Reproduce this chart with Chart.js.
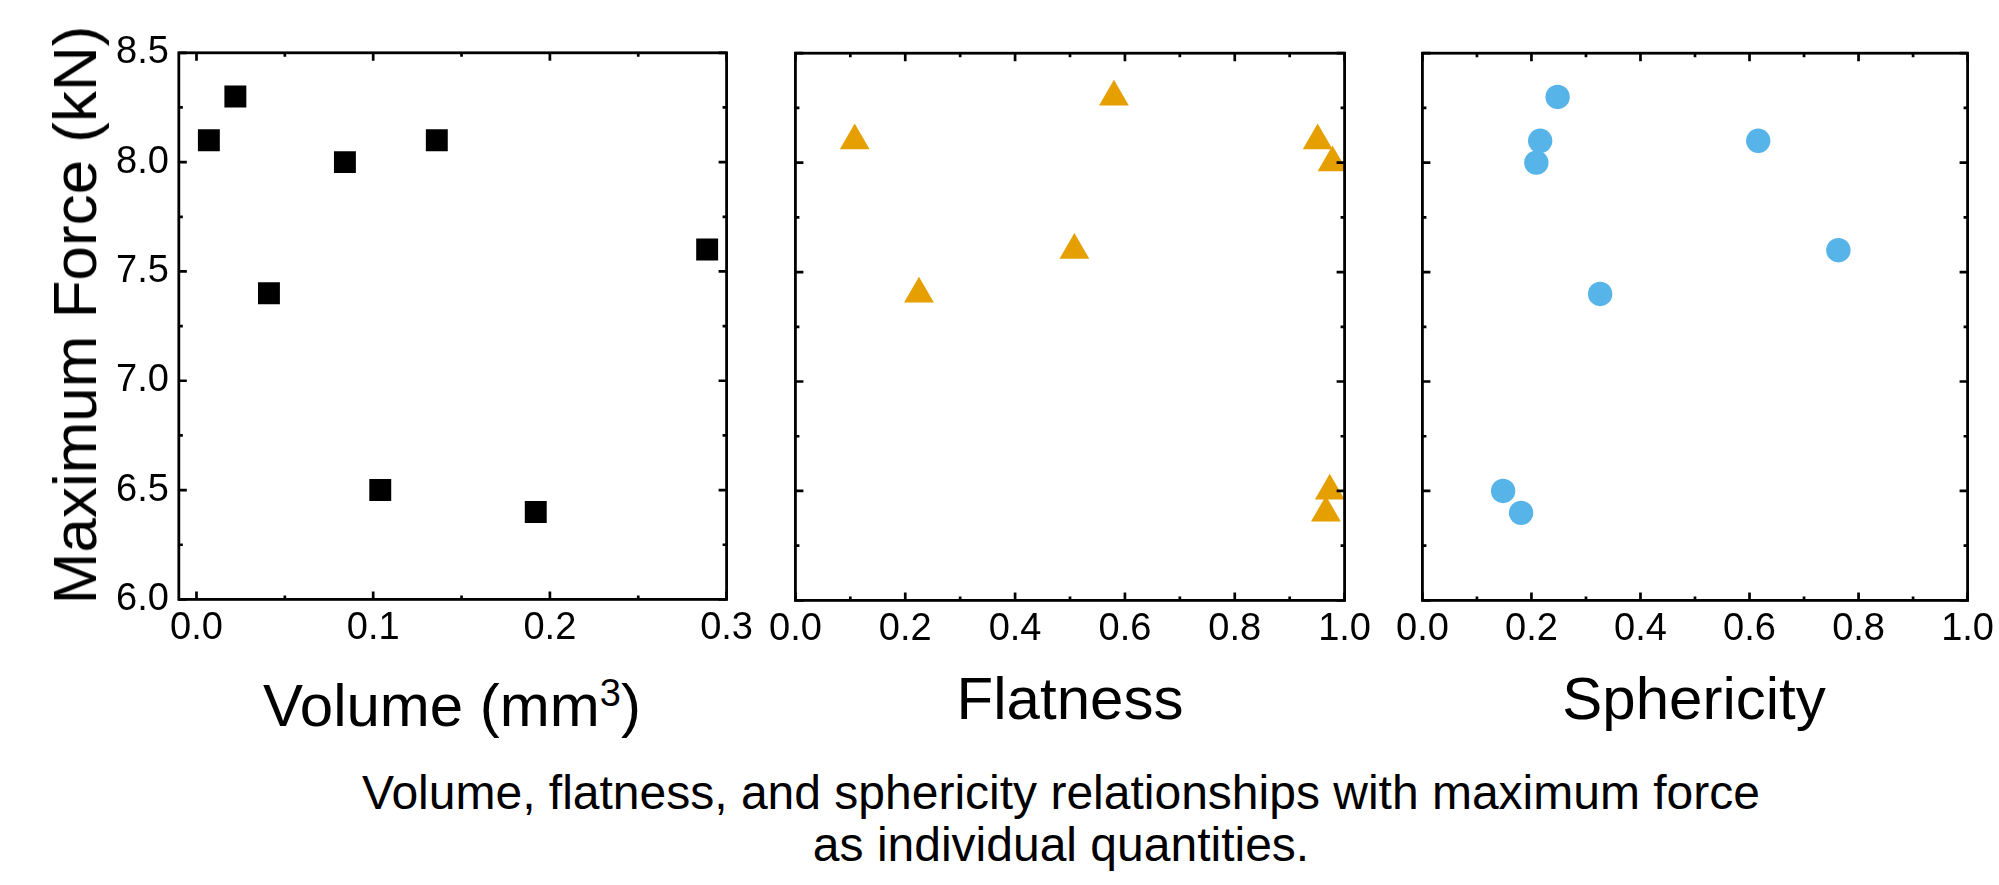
<!DOCTYPE html>
<html>
<head>
<meta charset="utf-8">
<script src="https://cdn.jsdelivr.net/npm/chart.js@4.4.1/dist/chart.umd.min.js"></script>
<style>
  html, body { margin: 0; padding: 0; background: #fff; }
  #wrap { position: relative; width: 1999px; height: 885px; overflow: hidden; background: #fff;
          font-family: "Liberation Sans", Arial, sans-serif; color: #000; }
  canvas { position: absolute; }
  .t { position: absolute; white-space: nowrap; }
</style>
</head>
<body>
<div id="wrap">
  <canvas id="c1"></canvas>
  <canvas id="c2"></canvas>
  <canvas id="c3"></canvas>
  <div class="t" id="ytitle" style="font-size:62px;line-height:62px;left:75px;top:315px;transform:translate(-50%,-50%) rotate(-90deg);">Maximum Force (kN)</div>
  <div class="t" style="font-size:60px;line-height:60px;left:452px;top:676px;transform:translateX(-50%);">Volume (mm<span style="font-size:38px;line-height:0;vertical-align:20px;">3</span>)</div>
  <div class="t" style="font-size:60px;line-height:60px;left:1070px;top:669px;transform:translateX(-50%);">Flatness</div>
  <div class="t" style="font-size:60px;line-height:60px;left:1694px;top:669px;transform:translateX(-50%);">Sphericity</div>
  <div class="t" style="font-size:48px;line-height:52px;left:1061px;top:767px;transform:translateX(-50%);text-align:center;">Volume, flatness, and sphericity relationships with maximum force<br>as individual quantities.</div>
</div>
<script>
// ---------- data ----------
const volumeX        = [0.007, 0.022, 0.041, 0.084, 0.136, 0.104, 0.192, 0.289];
const volumeForce    = [8.1, 8.3, 7.4, 8.0, 8.1, 6.5, 6.4, 7.6];
const flatnessX      = [0.108, 0.225, 0.580, 0.508, 0.951, 0.978, 0.973, 0.966];
const flatnessForce  = [8.1, 7.4, 8.3, 7.6, 8.1, 8.0, 6.5, 6.4];
const sphericityX    = [0.248, 0.216, 0.209, 0.616, 0.763, 0.326, 0.148, 0.181];
const sphericityForce= [8.3, 8.1, 8.0, 8.1, 7.6, 7.4, 6.5, 6.4];

const forceTicks   = [6.0, 6.5, 7.0, 7.5, 8.0, 8.5];
const forceMinor   = [6.25, 6.75, 7.25, 7.75, 8.25];
const volumeTicks  = [0.0, 0.1, 0.2, 0.3];
const volumeMinor  = [0.05, 0.15, 0.25];
const ratioTicks   = [0.0, 0.2, 0.4, 0.6, 0.8, 1.0];
const ratioMinor   = [0.1, 0.3, 0.5, 0.7, 0.9];

const FONT = "'Liberation Sans', Arial, sans-serif";

function frameTicksPlugin(xMinor, yMinor) {
  return {
    id: 'frameTicks',
    afterDraw(chart) {
      const { ctx, chartArea: a, scales: { x, y } } = chart;
      const MAJ = 8, MIN = 4;
      ctx.save();
      ctx.strokeStyle = '#000';
      ctx.lineWidth = 2.7;
      ctx.lineCap = 'butt';
      ctx.beginPath();
      const xt = (v, len) => {
        const p = x.getPixelForValue(v);
        ctx.moveTo(p, a.bottom); ctx.lineTo(p, a.bottom - len);
        ctx.moveTo(p, a.top);    ctx.lineTo(p, a.top + len);
      };
      const yt = (v, len) => {
        const p = y.getPixelForValue(v);
        ctx.moveTo(a.left, p);  ctx.lineTo(a.left + len, p);
        ctx.moveTo(a.right, p); ctx.lineTo(a.right - len, p);
      };
      x.ticks.forEach(t => xt(t.value, MAJ));
      xMinor.forEach(v => xt(v, MIN));
      y.ticks.forEach(t => yt(t.value, MAJ));
      yMinor.forEach(v => yt(v, MIN));
      ctx.stroke();
      ctx.lineWidth = 2.8;
      ctx.strokeRect(a.left, a.top, a.right - a.left, a.bottom - a.top);
      ctx.restore();
    }
  };
}

function makeConfig(xs, ys, style, color, radius, xMin, xMax, xTicks, xMinor, showY) {
  return {
    type: 'scatter',
    data: {
      datasets: [{
        data: xs.map((v, i) => ({ x: v, y: ys[i] })),
        pointStyle: style,
        backgroundColor: color,
        borderColor: color,
        borderWidth: 0,
        pointRadius: radius,
        pointHoverRadius: radius
      }]
    },
    options: {
      responsive: false,
      maintainAspectRatio: false,
      animation: false,
      devicePixelRatio: 1,
      events: [],
      layout: { padding: 0 },
      plugins: { legend: { display: false }, tooltip: { enabled: false } },
      scales: {
        x: {
          type: 'linear', min: xMin, max: xMax,
          afterBuildTicks: s => { s.ticks = xTicks.map(v => ({ value: v })); },
          grid: { display: false, drawTicks: false },
          border: { display: false },
          ticks: { padding: 6, color: '#000', font: { family: FONT, size: 38 },
                   callback: v => Number(v).toFixed(1), maxRotation: 0, autoSkip: false }
        },
        y: {
          type: 'linear', min: 6.0, max: 8.5,
          afterBuildTicks: s => { s.ticks = forceTicks.map(v => ({ value: v })); },
          grid: { display: false, drawTicks: false },
          border: { display: false },
          ticks: { display: showY, padding: 10, color: '#000', font: { family: FONT, size: 38 },
                   callback: v => Number(v).toFixed(1), autoSkip: false }
        }
      }
    },
    plugins: [frameTicksPlugin(xMinor, forceMinor)]
  };
}

function build(id, cfgFn, area) {
  const cv = document.getElementById(id);
  const S = 900;
  cv.width = S; cv.height = S; cv.style.width = S + 'px'; cv.style.height = S + 'px';
  let ch = new Chart(cv, cfgFn());
  const ca = ch.chartArea;
  const ml = ca.left, mt = ca.top, mr = S - ca.right, mb = S - ca.bottom;
  ch.destroy();
  const W = Math.round(ml + (area.r - area.l) + mr);
  const H = Math.round(mt + (area.b - area.t) + mb);
  cv.width = W; cv.height = H; cv.style.width = W + 'px'; cv.style.height = H + 'px';
  cv.style.left = Math.round(area.l - ml) + 'px';
  cv.style.top = Math.round(area.t - mt) + 'px';
  ch = new Chart(cv, cfgFn());
  return ch;
}

build('c1', () => makeConfig(volumeX, volumeForce, 'rect', '#000000', 15.5, -0.01, 0.3, volumeTicks, volumeMinor, true),
      { l: 178.5, r: 726.5, t: 53, b: 600 });
build('c2', () => makeConfig(flatnessX, flatnessForce, 'triangle', '#E69F00', 17.2, 0, 1, ratioTicks, ratioMinor, false),
      { l: 795.5, r: 1344.5, t: 53, b: 600 });
build('c3', () => makeConfig(sphericityX, sphericityForce, 'circle', '#56B4E9', 12.2, 0, 1, ratioTicks, ratioMinor, false),
      { l: 1422, r: 1967.5, t: 53, b: 600 });
</script>
</body>
</html>
